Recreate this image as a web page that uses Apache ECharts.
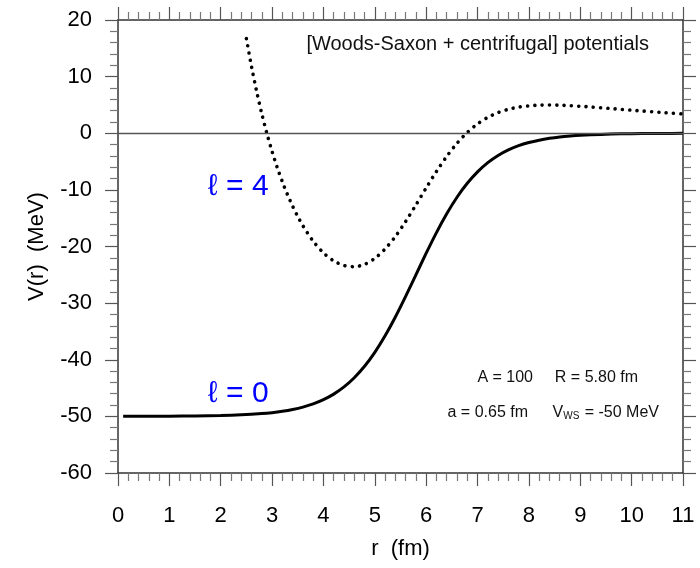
<!DOCTYPE html>
<html>
<head>
<meta charset="utf-8">
<script src="https://cdn.jsdelivr.net/npm/echarts@6/dist/echarts.min.js"></script>
<style>
html,body{margin:0;padding:0;background:#fff;}
#c{width:700px;height:568px;}
</style>
</head>
<body>
<div id="c"></div>
<script>
// r (fm) and V(r) (MeV) for l = 0 (Woods-Saxon only)
const r0 = [0.1,0.5,1.0,1.5,2.0,2.4,2.8,3.0,3.2,3.4,3.6,3.8,4.0,4.2,4.4,4.6,4.8,5.0,5.2,5.4,5.6,5.8,6.0,6.2,6.4,6.6,6.8,7.0,7.2,7.4,7.6,7.8,8.0,8.2,8.4,8.6,8.8,9.0,9.4,9.8,10.2,10.6,11.0];
const v0 = [-49.99,-49.99,-49.97,-49.93,-49.86,-49.73,-49.51,-49.34,-49.10,-48.78,-48.36,-47.80,-47.05,-46.07,-44.80,-43.18,-41.16,-38.70,-35.78,-32.46,-28.82,-25.00,-21.18,-17.54,-14.22,-11.30,-8.84,-6.82,-5.20,-3.93,-2.95,-2.20,-1.64,-1.22,-0.90,-0.66,-0.49,-0.36,-0.20,-0.11,-0.06,-0.03,-0.02];
// l = 4 (Woods-Saxon + centrifugal)
const r4 = [2.5,2.6,2.7,2.8,2.9,3.0,3.1,3.2,3.3,3.4,3.5,3.6,3.8,4.0,4.2,4.4,4.6,4.8,5.0,5.2,5.4,5.6,5.8,6.0,6.2,6.4,6.6,6.8,7.0,7.2,7.4,7.6,7.8,8.0,8.2,8.4,8.6,8.8,9.0,9.2,9.4,9.6,9.8,10.0,10.2,10.4,10.6,10.8,11.0];
const v4 = [16.71,11.75,7.35,3.42,-0.08,-3.23,-6.05,-8.57,-10.84,-12.88,-14.71,-16.34,-19.06,-21.11,-22.54,-23.36,-23.57,-23.15,-22.10,-20.43,-18.23,-15.59,-12.66,-9.65,-6.74,-4.09,-1.77,0.13,1.65,2.81,3.65,4.23,4.62,4.84,4.96,4.98,4.95,4.87,4.76,4.64,4.50,4.36,4.21,4.07,3.93,3.80,3.66,3.54,3.41];
const xTicks = {min:0, max:11, interval:1};
const yTicks = {min:-60, max:20, interval:10};

const FONT = 'Liberation Sans';
const chart = echarts.init(document.getElementById('c'));

function axisBase(showLabel){
  return {
    type:'value',
    axisLine:{show:true, onZero:false, lineStyle:{color:'#333', width:1.5}},
    axisTick:{show:true, inside:false, length:13, lineStyle:{color:'#555', width:1.2}},
    minorTick:{show:true, splitNumber:5, length:8, lineStyle:{color:'#777', width:1.2}},
    splitLine:{show:false},
    axisLabel:{show:showLabel, fontSize:22, color:'#000', fontFamily:FONT}
  };
}
const xb = Object.assign(axisBase(true), xTicks, {position:'bottom', name:'r  (fm)', nameLocation:'middle', nameGap:65, nameTextStyle:{fontSize:22, color:'#000', fontFamily:FONT}});
xb.axisLabel.margin = 32;
const xt = Object.assign(axisBase(false), xTicks, {position:'top'});
const yl = Object.assign(axisBase(true), yTicks, {position:'left', name:'V(r)  (MeV)', nameLocation:'middle', nameGap:70, nameTextStyle:{fontSize:22, color:'#000', fontFamily:FONT}});
yl.axisLabel.margin = 26;
const yr = Object.assign(axisBase(false), yTicks, {position:'right'});

const small = '16px "Liberation Sans"';
chart.setOption({
  animation:false,
  grid:{left:118, right:17, top:20, bottom:95, containLabel:false},
  xAxis:[xb, xt],
  yAxis:[yl, yr],
  series:[
    {type:'line', xAxisIndex:0, yAxisIndex:0, data:r0.map((r,i)=>[r,v0[i]]), showSymbol:false, smooth:0.3,
     lineStyle:{color:'#000', width:3},
     markLine:{silent:true, symbol:'none', label:{show:false}, lineStyle:{color:'#555', width:1.3, type:'solid'}, data:[{yAxis:0}]}},
    {type:'line', xAxisIndex:0, yAxisIndex:0, data:r4.map((r,i)=>[r,v4[i]]), showSymbol:false, smooth:0.3,
     lineStyle:{color:'#000', width:3.6, type:[0.01,7.3], cap:'round'}}
  ],
  graphic:[
    {type:'text', x:649, y:44, style:{text:'[Woods-Saxon + centrifugal] potentials', font:'20px "Liberation Sans"', fill:'#111', align:'right', verticalAlign:'middle'}},
    {type:'text', x:208, y:187, style:{text:'ℓ = 4', font:'30px "Liberation Sans"', fill:'#0000ff', align:'left', verticalAlign:'middle'}},
    {type:'text', x:208, y:394, style:{text:'ℓ = 0', font:'30px "Liberation Sans"', fill:'#0000ff', align:'left', verticalAlign:'middle'}},
    {type:'text', x:533, y:378, style:{text:'A = 100', font:small, fill:'#111', align:'right', verticalAlign:'middle'}},
    {type:'text', x:638, y:378, style:{text:'R = 5.80 fm', font:small, fill:'#111', align:'right', verticalAlign:'middle'}},
    {type:'text', x:528, y:413, style:{text:'a = 0.65 fm', font:small, fill:'#111', align:'right', verticalAlign:'middle'}},
    {type:'text', x:659, y:413, style:{text:'V{s|WS} = -50 MeV', font:small, fill:'#111', align:'right', verticalAlign:'middle',
      rich:{s:{fontSize:10, fontFamily:FONT, fill:'#111', verticalAlign:'bottom', padding:[7,1,0,0]}}}}
  ]
});
</script>
</body>
</html>
